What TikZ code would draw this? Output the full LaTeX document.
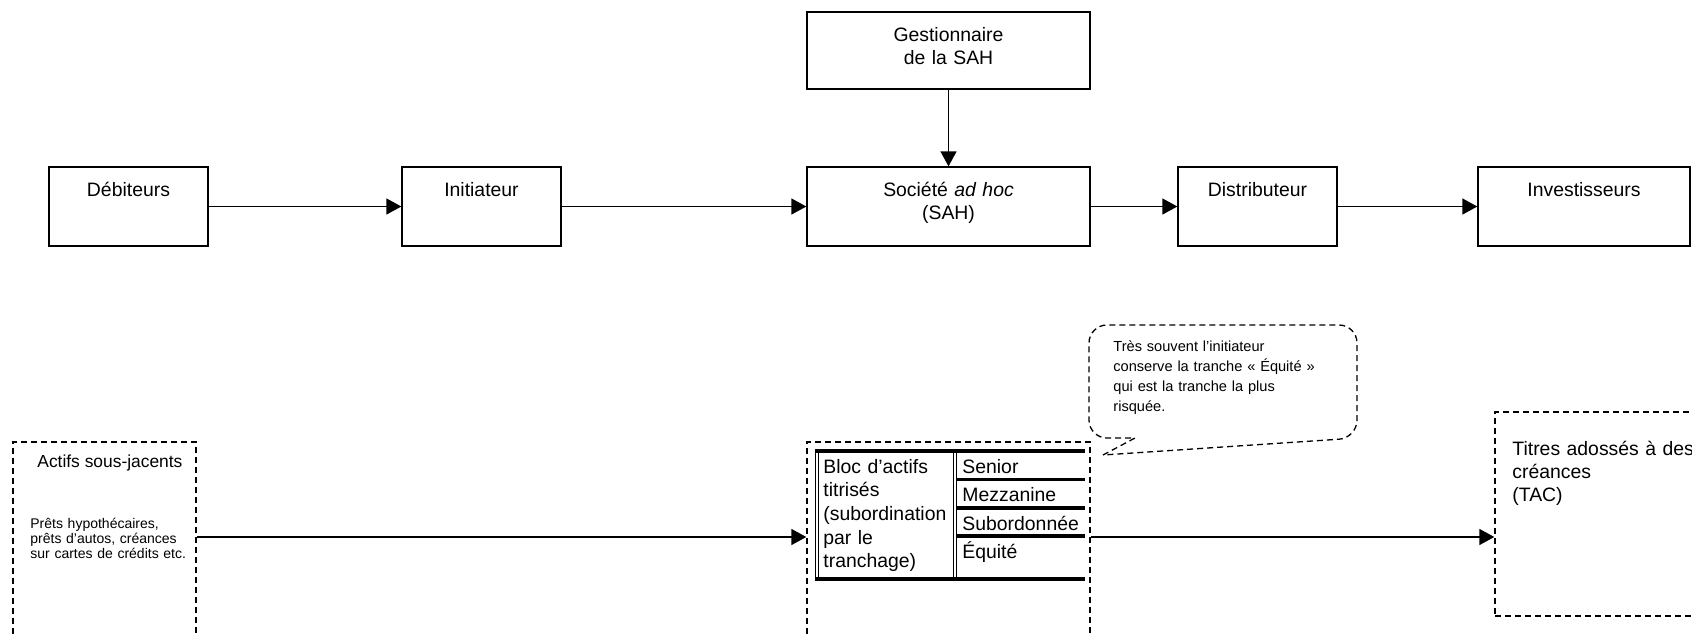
\documentclass[tikz,border=0pt]{standalone}
\usepackage{fontspec}
\setmainfont{Liberation Sans}
\usetikzlibrary{arrows.meta}
\begin{document}
\begin{tikzpicture}[x=0.5pt,y=-0.5pt,
  box/.style={draw, line width=0.65pt, inner sep=0pt},
  dbox/.style={draw, line width=0.65pt, dash pattern=on 3pt off 2pt, inner sep=0pt},
  arr/.style={line width=0.65pt, -{Triangle[length=7.5pt,width=8pt]}},
  big/.style={font=\fontsize{9.7pt}{11.6pt}\selectfont},
  mid/.style={font=\fontsize{8.7pt}{10.5pt}\selectfont},
  small/.style={font=\fontsize{7pt}{7.6pt}\selectfont},
  note/.style={font=\fontsize{7.3pt}{10pt}\selectfont},
  toptext/.style={big, anchor=base, yshift=-15pt, align=center, text width=135pt, inner sep=0pt},
  txt/.style={anchor=base west, inner sep=0pt, align=left},
  thickrule/.style={line width=1.6pt},
  thinrule/.style={line width=0.5pt},
]
\useasboundingbox (0,0) rectangle (1692,633);

% top row
\node[box, minimum width=79.5pt, minimum height=39.5pt,
  label={[toptext]north:Débiteurs}] (deb) at (128.5,206.5) {};
\node[box, minimum width=79.5pt, minimum height=39.5pt,
  label={[toptext]north:Initiateur}] (ini) at (481.5,206.5) {};
\node[box, minimum width=141.5pt, minimum height=39.5pt,
  label={[toptext]north:Société \textit{ad hoc}\\(SAH)}] (sah) at (948.5,206.5) {};
\node[box, minimum width=141.5pt, minimum height=38.5pt,
  label={[toptext]north:Gestionnaire\\de la SAH}] (gest) at (948.5,50.5) {};
\node[box, minimum width=79.5pt, minimum height=39.5pt,
  label={[toptext]north:Distributeur}] (dist) at (1257.5,206.5) {};
\node[box, minimum width=106pt, minimum height=39.5pt,
  label={[toptext]north:Investisseurs}] (inv) at (1584,206.5) {};

\draw[arr] (deb) -- (ini);
\draw[arr] (ini) -- (sah);
\draw[arr] (sah) -- (dist);
\draw[arr] (dist) -- (inv);
\draw[arr] (gest) -- (sah);

% bottom row
\node[dbox, minimum width=91.5pt, minimum height=109pt] (actifs) at (104.5,551) {};
\node[dbox, minimum width=141.5pt, minimum height=109pt] (bloc) at (948.5,551) {};
\node[dbox, minimum width=107.5pt, minimum height=102pt] (tac) at (1602.5,514) {};

\node[txt, mid] (actifsT) at (37,467) {Actifs sous-jacents};
\node[txt, small, text width=85pt] (actifsS) at (30,528)
  {Prêts hypothécaires,\\prêts d’autos, créances\\sur cartes de crédits etc.};
\node[txt, big, text width=95pt] (tacT) at (1512,455)
  {Titres adossés à des\\créances\\(TAC)};

\coordinate (flow) at (0,537);
\draw[arr] (actifs.east |- flow) -- (bloc.west |- flow);
\draw[arr] (bloc.east |- flow) -- (tac.west |- flow);

% table
\draw[thinrule] (815,451) -- (815,579) (818,451) -- (818,579)
  (953,451) -- (953,579) (956,451) -- (956,579);
\draw[thickrule] (815,451) -- (1085,451) (815,579) -- (1085,579)
  (956,479.5) -- (1085,479.5) (956,508) -- (1085,508) (956,536) -- (1085,536);
\node[txt, big, font=\fontsize{9.7pt}{11.85pt}\selectfont, text width=66pt] (blocT) at (823,473)
  {Bloc d’actifs\\titrisés\\(subordination\\par le\\tranchage)};
\node[txt, big] (senior) at (962,473) {Senior};
\node[txt, big] (mezz) at (962,501) {Mezzanine};
\node[txt, big] (subo) at (962,530) {Subordonnée};
\node[txt, big] (equi) at (962,558) {Équité};

% callout
\draw[line width=0.65pt, dash pattern=on 3pt off 2pt]
  (1103,455) -- (1135,438) [rounded corners=9pt] -- (1089,438) -- (1089,325)
  -- (1357,325) -- (1357,438) -- (1103,455);
\node[txt, note, text width=118pt] (noteT) at (1113,351)
  {Très souvent l’initiateur\\conserve la tranche « Équité »\\qui est la tranche la plus\\risquée.};
\end{tikzpicture}
\end{document}
